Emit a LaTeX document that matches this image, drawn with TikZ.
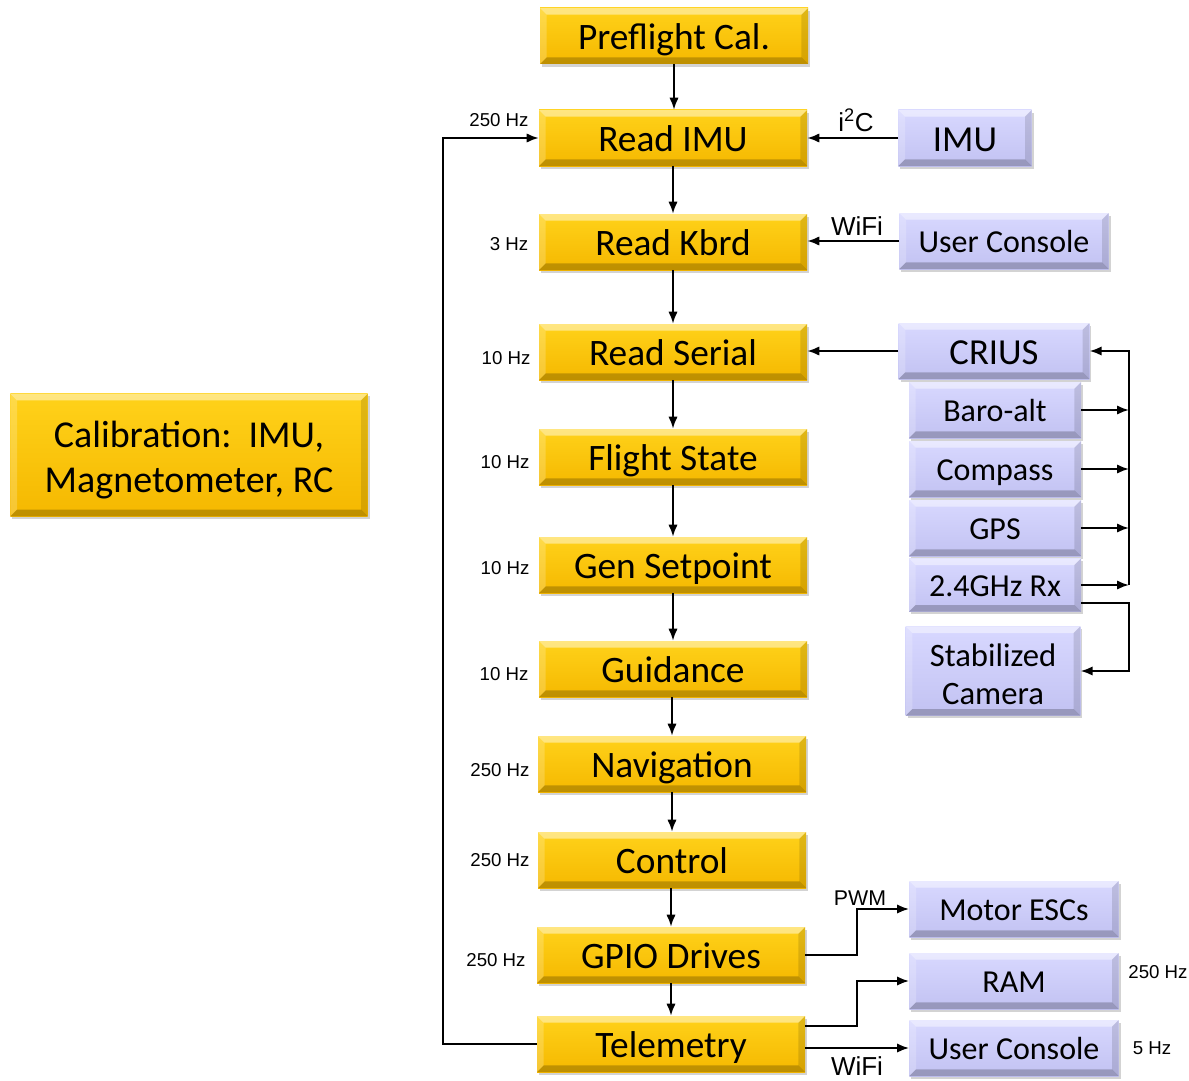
\documentclass[tikz,border=0pt]{standalone}
\usepackage{fontspec}
\setmainfont{Carlito}
\newfontfamily\arialf{Liberation Sans}
\usetikzlibrary{arrows.meta,shadows,calc}
\definecolor{ytop}{HTML}{FFD21A}
\definecolor{ybot}{HTML}{F5B800}
\definecolor{ptop}{HTML}{D8D8FF}
\definecolor{pbot}{HTML}{C2C2F2}
\tikzset{
  bevel/.style={path picture={
    \fill[white,opacity=.45] (path picture bounding box.north west) -- (path picture bounding box.north east) -- ([shift={(-5pt,-5pt)}]path picture bounding box.north east) -- ([shift={(5pt,-5pt)}]path picture bounding box.north west) -- cycle;
    \fill[white,opacity=.2] (path picture bounding box.north west) -- ([shift={(5pt,-5pt)}]path picture bounding box.north west) -- ([shift={(5pt,5pt)}]path picture bounding box.south west) -- (path picture bounding box.south west) -- cycle;
    \fill[black,opacity=.22] (path picture bounding box.south west) -- (path picture bounding box.south east) -- ([shift={(-5pt,5pt)}]path picture bounding box.south east) -- ([shift={(5pt,5pt)}]path picture bounding box.south west) -- cycle;
    \fill[black,opacity=.12] (path picture bounding box.north east) -- ([shift={(-5pt,-5pt)}]path picture bounding box.north east) -- ([shift={(-5pt,5pt)}]path picture bounding box.south east) -- (path picture bounding box.south east) -- cycle;
  }},
  ybox/.style={rectangle, inner sep=0pt, minimum width=201pt, minimum height=42pt,
    top color=ytop, bottom color=ybot, bevel,
    drop shadow={shadow xshift=1.5pt, shadow yshift=-2pt, opacity=.35},
    font=\fontsize{28}{32}\selectfont, align=center},
  yb/.style={ybox, text height=24pt, text depth=4pt},
  pbox/.style={rectangle, inner sep=0pt, minimum height=42pt,
    top color=ptop, bottom color=pbot, bevel,
    drop shadow={shadow xshift=1.5pt, shadow yshift=-2pt, opacity=.35},
    font=\fontsize{24}{28}\selectfont, align=center},
  pb/.style={pbox, text height=21pt, text depth=3.4pt},
  pbl/.style={pbox, text height=24pt, text depth=4.1pt, font=\fontsize{27.5}{30}\selectfont},
  arr/.style={line width=1.5pt, -{Latex[length=9pt,width=7pt]}},
  hz/.style={font=\arialf\fontsize{14}{16}\selectfont, inner sep=0pt},
  sig/.style={font=\arialf\fontsize{19.5}{22}\selectfont, inner sep=0pt},
}
\begin{document}
\begin{tikzpicture}[x=0.75pt,y=-0.75pt]
\useasboundingbox (0,0) rectangle (1189,1081);
% yellow boxes
\node[yb] (pre) at (674,36) {Preflight Cal.};
\node[yb] (rimu) at (673,138) {Read IMU};
\node[yb] (kbrd) at (673,242) {Read Kbrd};
\node[yb] (ser) at (673,352) {Read Serial};
\node[yb] (fst) at (673,457) {Flight State};
\node[yb] (gen) at (673,565) {Gen Setpoint};
\node[yb] (gui) at (673,669) {Guidance};
\node[yb] (nav) at (672,764) {Navigation};
\node[yb] (ctl) at (672,860) {Control};
\node[yb] (gpio) at (671,955) {GPIO Drives};
\node[yb] (tel) at (671,1044) {Telemetry};
\node[ybox, minimum width=268pt, minimum height=92pt, text height=60pt, text depth=3.5pt, font=\fontsize{28.5}{34}\selectfont] (cal) at (189,455) {Calibration:\ \ IMU,\\Magnetometer, RC};
% purple boxes
\node[pbl, minimum width=100pt] (imu) at (965,138) {IMU};
\node[pb, minimum width=157pt] (uc1) at (1004,241) {User Console};
\node[pbl, minimum width=143pt] (crius) at (994,351) {CRIUS};
\node[pb, minimum width=129pt] (baro) at (995,410) {Baro-alt};
\node[pb, minimum width=129pt] (comp) at (995,469) {Compass};
\node[pb, minimum width=129pt] (gps) at (995,528) {GPS};
\node[pb, minimum width=129pt, minimum height=40pt] (rx) at (995,585) {2.4GHz Rx};
\node[pbox, minimum width=131pt, minimum height=67pt, text height=50pt, text depth=0pt, font=\fontsize{24.5}{28.5}\selectfont] (cam) at (993,671) {Stabilized\\Camera};
\node[pb, minimum width=157pt] (esc) at (1014,909) {Motor ESCs};
\node[pb, minimum width=157pt] (ram) at (1014,981) {RAM};
\node[pb, minimum width=157pt] (uc2) at (1014,1048) {User Console};
% main chain
\draw[arr] (pre.south) -- (pre.south |- rimu.north);
\draw[arr] (rimu.south) -- (kbrd.north);
\draw[arr] (kbrd.south) -- (ser.north);
\draw[arr] (ser.south) -- (fst.north);
\draw[arr] (fst.south) -- (gen.north);
\draw[arr] (gen.south) -- (gui.north);
\draw[arr] (gui.south -| nav.north) -- (nav.north);
\draw[arr] (nav.south) -- (ctl.north);
\draw[arr] (ctl.south -| gpio.north) -- (gpio.north);
\draw[arr] (gpio.south) -- (tel.north);
% loop back
\coordinate (loopx) at (443,1044);
\draw[arr] (tel.west) -- (loopx) |- (rimu.west);
% inputs
\draw[arr] (imu.west) -- (imu.west -| rimu.east);
\draw[arr] (uc1.west) -- (uc1.west -| kbrd.east);
\draw[arr] (crius.west) -- (crius.west -| ser.east);
% sensor bus
\coordinate (busb) at (1129,585);
\draw[arr] (baro.east) -- (baro.east -| busb);
\draw[arr] (comp.east) -- (comp.east -| busb);
\draw[arr] (gps.east) -- (gps.east -| busb);
\draw[arr] (rx.east) -- (rx.east -| busb);
\draw[arr] (rx.east -| busb) -- (crius.east -| busb) -- (crius.east);
\coordinate (rxo) at (1081,603);
\draw[arr] (rxo) -- (rxo -| busb) |- (cam.east);
% outputs
\coordinate (gpo) at (857,955);
\draw[arr] (gpio.east) -- (gpo) |- (esc.west);
\coordinate (tlo) at (805,1026);
\coordinate (tlk) at (857,1026);
\draw[arr] (tlo) -- (tlk) |- (ram.west);
\draw[arr] (uc2.west -| tel.east) -- (uc2.west);
% labels
\node[hz] (h0) at (499,120) {250 Hz};
\node[hz] (h1) at (509,244) {3 Hz};
\node[hz] (h2) at (506,358) {10 Hz};
\node[hz] (h3) at (505,462) {10 Hz};
\node[hz] (h4) at (505,568) {10 Hz};
\node[hz] (h5) at (504,674) {10 Hz};
\node[hz] (h6) at (500,770) {250 Hz};
\node[hz] (h7) at (500,860) {250 Hz};
\node[hz] (h8) at (496,960) {250 Hz};
\node[hz] (h9) at (1158,972) {250 Hz};
\node[hz] (h10) at (1152,1048) {5 Hz};
\node[sig] (s1) at (856,120) {i\textsuperscript{2}C};
\node[sig] (s2) at (857,226) {WiFi};
\node[sig, font=\arialf\fontsize{16}{18}\selectfont] (s3) at (860,898) {PWM};
\node[sig] (s4) at (857,1066) {WiFi};
\end{tikzpicture}
\end{document}
